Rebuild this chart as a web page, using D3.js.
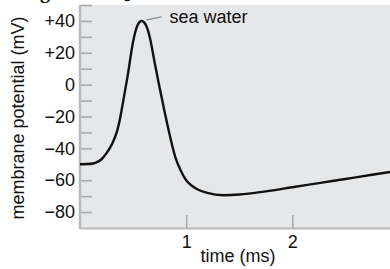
<!DOCTYPE html>
<html>
<head>
<meta charset="utf-8">
<script src="https://cdn.jsdelivr.net/npm/d3@7"></script>
<style>
  html, body { margin: 0; padding: 0; background: #fff; }
  svg { display: block; }
  text { font-family: "Liberation Sans", Arial, Helvetica, sans-serif; fill: #111; }
</style>
</head>
<body>
<svg id="chart" width="390" height="269"></svg>
<script>
// ---- data ----
const timeMs = [0, 0.1, 0.15, 0.2, 0.25, 0.3, 0.35, 0.375, 0.4, 0.45, 0.5, 0.54, 0.58, 0.62, 0.66, 0.7, 0.75, 0.8, 0.85, 0.9, 0.95, 1.0, 1.05, 1.1, 1.2, 1.35, 1.5, 1.75, 2.0, 2.25, 2.5, 2.75, 2.92];
const potentialMv = [-50, -49.7, -48.9, -47, -43, -37.5, -29, -22, -13, 6, 27, 37, 40, 37.5, 29, 15, -2, -18, -33, -46, -54, -60, -63.3, -65.5, -68, -69.4, -69, -67, -64.4, -61.8, -59.2, -56.6, -54.8];
const yMajorTicks = [-80, -60, -40, -20, 0, 20, 40];
const yMinorTicks = [-70, -50, -30, -10, 10, 30, 50];
const xTicks = [1, 2];
const seriesLabel = "sea water";
const yTitle = "membrane potential (mV)";
const xTitle = "time (ms)";

(function () {
const svg = d3.select("#chart");
const mLeft = 80, mRight = 390, mTop = 5, mBottom = 228;

const x = d3.scaleLinear().domain([0, 2.92]).range([mLeft, mRight]);
const y = d3.scaleLinear().domain([-90, 50]).range([mBottom, mTop]);

// clipped heading remnant at the very top (cut off in the reference as well)
svg.append("text").attr("x", 40).attr("y", -2)
  .style("font-family", "'Liberation Serif', serif").style("font-weight", "bold").style("font-size", "20px")
  .text("g");
svg.append("text").attr("x", 115).attr("y", -2)
  .style("font-family", "'Liberation Serif', serif").style("font-weight", "bold").style("font-size", "20px")
  .text("Q");

// plot background
svg.append("rect").attr("x", mLeft).attr("y", mTop).attr("width", mRight - mLeft).attr("height", mBottom - mTop)
  .attr("fill", "#e6e7e9");

const fmt = v => v > 0 ? "+" + v : (v < 0 ? "\u2212" + Math.abs(v) : "0");

// y axis (ticks inward)
const yAxis = d3.axisLeft(y).tickValues(yMajorTicks).tickSize(-12).tickPadding(5).tickFormat(fmt);
const gy = svg.append("g").attr("transform", `translate(${mLeft},0)`).call(yAxis);
gy.select(".domain").remove();
gy.selectAll(".tick line").attr("stroke", "#a9aaac").attr("stroke-width", 1.6);
gy.selectAll(".tick text").style("font-size", "18px").attr("fill", "#111");

const yMinor = d3.axisRight(y).tickValues(yMinorTicks).tickSize(12).tickFormat("");
const gym = svg.append("g").attr("transform", `translate(${mLeft},0)`).call(yMinor);
gym.select(".domain").remove();
gym.selectAll(".tick line").attr("stroke", "#a9aaac").attr("stroke-width", 1.6);

// x axis (ticks inward)
const xAxis = d3.axisBottom(x).tickValues(xTicks).tickSize(-13).tickPadding(7).tickFormat(d3.format("d"));
const gx = svg.append("g").attr("transform", `translate(0,${mBottom})`).call(xAxis);
gx.select(".domain").remove();
gx.selectAll(".tick line").attr("stroke", "#a9aaac").attr("stroke-width", 1.6);
gx.selectAll(".tick text").style("font-size", "18px").attr("fill", "#111");

// axis lines
svg.append("line").attr("x1", mLeft).attr("x2", mLeft).attr("y1", mTop).attr("y2", mBottom + 1)
  .attr("stroke", "#b8b9bb").attr("stroke-width", 2.5);
svg.append("line").attr("x1", mLeft).attr("x2", mRight).attr("y1", mBottom + 0.5).attr("y2", mBottom + 0.5)
  .attr("stroke", "#b8b9bb").attr("stroke-width", 2);

// curve
const pts = timeMs.map((t, i) => [t, potentialMv[i]]);
const line = d3.line().x(d => x(d[0])).y(d => y(d[1])).curve(d3.curveMonotoneX);
svg.append("path").datum(pts).attr("d", line).attr("fill", "none")
  .attr("stroke", "#111").attr("stroke-width", 2.4).attr("stroke-linejoin", "round");

// label with leader line
const peakIdx = potentialMv.indexOf(d3.max(potentialMv));
const px = x(timeMs[peakIdx]), py = y(potentialMv[peakIdx]);
svg.append("line").attr("x1", px + 5).attr("y1", py - 1).attr("x2", px + 20).attr("y2", py - 4)
  .attr("stroke", "#888").attr("stroke-width", 1.2);
svg.append("text").attr("x", px + 28).attr("y", 22.5).style("font-size", "18px").attr("fill", "#222").text(seriesLabel);

// titles
svg.append("text").attr("transform", `translate(24,118) rotate(-90)`).attr("text-anchor", "middle")
  .style("font-size", "18px").text(yTitle);
svg.append("text").attr("x", 238).attr("y", 262).attr("text-anchor", "middle")
  .style("font-size", "18px").text(xTitle);
})();
</script>
</body>
</html>
